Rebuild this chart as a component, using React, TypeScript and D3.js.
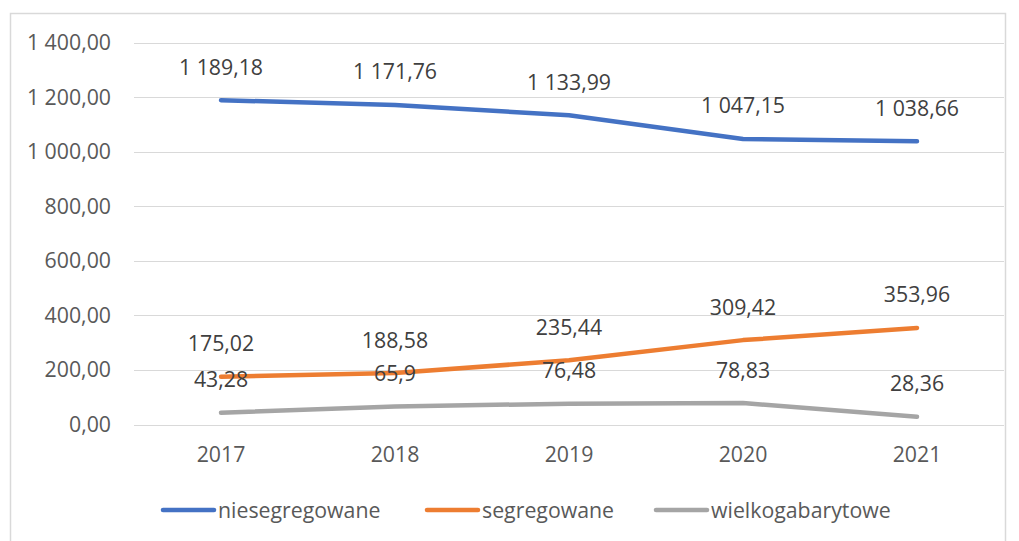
import React, { useEffect, useRef } from 'react';
import * as d3 from 'd3';

// chart data
const years = ['2017', '2018', '2019', '2020', '2021'];
const niesegregowane = [1189.18, 1171.76, 1133.99, 1047.15, 1038.66];
const segregowane = [175.02, 188.58, 235.44, 309.42, 353.96];
const wielkogabarytowe = [43.28, 65.9, 76.48, 78.83, 28.36];
const yTicks = [0, 200, 400, 600, 800, 1000, 1200, 1400];

const seriesList = [
  { name: 'niesegregowane', values: niesegregowane, color: '#4472C4' },
  { name: 'segregowane', values: segregowane, color: '#ED7D31' },
  { name: 'wielkogabarytowe', values: wielkogabarytowe, color: '#A5A5A5' },
];

const App = () => {
  const svgRef = useRef<SVGSVGElement>(null);

  useEffect(() => {
    const svg = d3.select(svgRef.current);
    svg.selectAll('*').remove();

    const W = 1019;
    const H = 541;
    const font = '"Open Sans", "Liberation Sans", sans-serif';
    const fs = 21.3;
    const textColor = '#595959';
    const pl = d3.formatLocale({ decimal: ',', thousands: '\u00a0', grouping: [3], currency: ['', ' zł'] });
    const tickFmt = pl.format(',.2f');
    const labelFmt = pl.format(',');

    svg.attr('width', W).attr('height', H);

    // outer chart border
    svg.append('rect')
      .attr('x', 10.5).attr('y', 13.5)
      .attr('width', 995).attr('height', 560)
      .attr('fill', 'white')
      .attr('stroke', '#d9d9d9')
      .attr('stroke-width', 1.5);

    const x = d3.scaleBand().domain(years).range([134, 1004]);
    const y = d3.scaleLinear().domain([0, 1400]).range([424.5, 42.7]);
    const cx = (d: string) => (x(d) as number) + x.bandwidth() / 2;

    // gridlines
    svg.append('g')
      .selectAll('line')
      .data(yTicks)
      .enter().append('line')
      .attr('x1', 134).attr('x2', 1004)
      .attr('y1', d => Math.round(y(d)) + 0.5)
      .attr('y2', d => Math.round(y(d)) + 0.5)
      .attr('stroke', '#d9d9d9')
      .attr('stroke-width', 1.2);

    // y labels
    svg.append('g')
      .selectAll('text')
      .data(yTicks)
      .enter().append('text')
      .attr('x', 111)
      .attr('y', d => y(d) + 7.5)
      .attr('text-anchor', 'end')
      .attr('font-family', font)
      .attr('font-size', fs)
      .attr('fill', textColor)
      .text(d => tickFmt(d));

    // x labels
    svg.append('g')
      .selectAll('text')
      .data(years)
      .enter().append('text')
      .attr('x', d => cx(d))
      .attr('y', 462)
      .attr('text-anchor', 'middle')
      .attr('font-family', font)
      .attr('font-size', fs)
      .attr('fill', textColor)
      .text(d => d);

    const line = d3.line<number>()
      .x((_, i) => cx(years[i]))
      .y(d => y(d));

    seriesList.forEach(s => {
      svg.append('path')
        .datum(s.values)
        .attr('d', line)
        .attr('fill', 'none')
        .attr('stroke', s.color)
        .attr('stroke-width', 4.5)
        .attr('stroke-linecap', 'round')
        .attr('stroke-linejoin', 'round');
    });

    // data labels
    seriesList.forEach(s => {
      svg.append('g')
        .selectAll('text')
        .data(s.values)
        .enter().append('text')
        .attr('x', (_, i) => cx(years[i]))
        .attr('y', d => y(d) - 25.5)
        .attr('text-anchor', 'middle')
        .attr('font-family', font)
        .attr('font-size', fs)
        .attr('fill', '#404040')
        .text(d => labelFmt(d));
    });

    // legend
    const legendPos = [161, 425, 654];
    const legend = svg.append('g');
    seriesList.forEach((s, i) => {
      const lx = legendPos[i];
      legend.append('line')
        .attr('x1', lx + 2).attr('x2', lx + 53)
        .attr('y1', 510).attr('y2', 510)
        .attr('stroke', s.color)
        .attr('stroke-width', 4.5)
        .attr('stroke-linecap', 'round');
      legend.append('text')
        .attr('x', lx + 57)
        .attr('y', 517.5)
        .attr('font-family', font)
        .attr('font-size', fs)
        .attr('fill', textColor)
        .text(s.name);
    });
  }, []);

  return (
    <svg ref={svgRef} style={{ position: 'absolute', left: 0, top: 0, background: 'white' }}></svg>
  );
};

export default App;
